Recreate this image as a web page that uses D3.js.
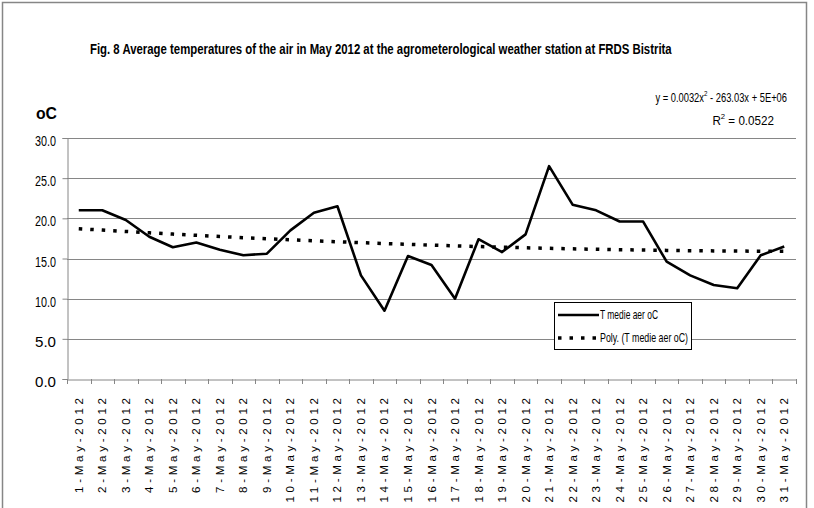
<!DOCTYPE html>
<html>
<head>
<meta charset="utf-8">
<script src="https://cdn.jsdelivr.net/npm/d3@7"></script>
<style>
  body { margin: 0; background: #fff; }
  text { font-family: "Liberation Sans Narrow", "Liberation Sans", Arial, sans-serif; fill: #000; }
</style>
</head>
<body>
<div id="chart"></div>
<script>
var dayLabels = ["1-May-2012", "2-May-2012", "3-May-2012", "4-May-2012", "5-May-2012",
  "6-May-2012", "7-May-2012", "8-May-2012", "9-May-2012", "10-May-2012", "11-May-2012",
  "12-May-2012", "13-May-2012", "14-May-2012", "15-May-2012", "16-May-2012", "17-May-2012",
  "18-May-2012", "19-May-2012", "20-May-2012", "21-May-2012", "22-May-2012", "23-May-2012",
  "24-May-2012", "25-May-2012", "26-May-2012", "27-May-2012", "28-May-2012", "29-May-2012",
  "30-May-2012", "31-May-2012"];

var tempValues = [21.0, 21.0, 19.8, 17.7, 16.4, 17.0, 16.1, 15.4, 15.6, 18.5, 20.7,
  21.5, 12.9, 8.5, 15.3, 14.2, 10.0, 17.4, 15.8, 18.0, 26.5, 21.7, 21.0,
  19.6, 19.6, 14.6, 12.9, 11.7, 11.3, 15.4, 16.5];

var yTicks = [0, 5, 10, 15, 20, 25, 30];

var seriesName = "T medie aer oC";
var trendName = "Poly. (T medie aer oC)";
var titleText = "Fig. 8  Average temperatures of the air in May 2012 at the agrometerological weather station at FRDS Bistrita";

var CONFIG = {
  width: 814,
  height: 508,
  plot: { left: 67, right: 796, top: 138, bottom: 379 }
};

// 2nd order least squares fit (the "Poly." trendline)
function polyFit(vals) {
  var s = [0, 0, 0, 0, 0], t = [0, 0, 0];
  vals.forEach((v, i) => {
    var x = i + 1;
    for (var k = 0; k < 5; k++) s[k] += Math.pow(x, k);
    for (var k = 0; k < 3; k++) t[k] += v * Math.pow(x, k);
  });
  var m = [[s[0], s[1], s[2], t[0]], [s[1], s[2], s[3], t[1]], [s[2], s[3], s[4], t[2]]];
  for (var i = 0; i < 3; i++) {
    for (var j = i + 1; j < 3; j++) {
      var f = m[j][i] / m[i][i];
      for (var k = i; k < 4; k++) m[j][k] -= f * m[i][k];
    }
  }
  var c = [0, 0, 0];
  for (var i = 2; i >= 0; i--) {
    var sum = m[i][3];
    for (var k = i + 1; k < 3; k++) sum -= m[i][k] * c[k];
    c[i] = sum / m[i][i];
  }
  return vals.map((v, i) => c[0] + c[1] * (i + 1) + c[2] * (i + 1) * (i + 1));
}

var trendValues = polyFit(tempValues);

// squeeze a text element horizontally so it is w pixels wide
function fitWidth(sel, w, anchorX) {
  var cur = sel.node().getBBox().width;
  var k = w / cur;
  sel.attr("transform", "translate(" + anchorX + ",0) scale(" + k + ",1) translate(" + (-anchorX) + ",0)");
}

var svg = d3.select("#chart").append("svg")
  .attr("width", CONFIG.width)
  .attr("height", CONFIG.height);

// outer frame
svg.append("rect")
  .attr("x", 2.5).attr("y", 2.5)
  .attr("width", 804).attr("height", 530)
  .attr("fill", "#fff")
  .attr("stroke", "#868686")
  .attr("stroke-width", 1.5);

var x = d3.scaleBand()
  .domain(dayLabels)
  .range([CONFIG.plot.left, CONFIG.plot.right]);

var y = d3.scaleLinear()
  .domain([0, 30])
  .range([CONFIG.plot.bottom, CONFIG.plot.top]);

// gridlines
svg.append("g")
  .selectAll("line")
  .data(yTicks.filter(d => d > 0))
  .enter().append("line")
  .attr("x1", CONFIG.plot.left)
  .attr("x2", CONFIG.plot.right)
  .attr("y1", d => Math.round(y(d)) + 0.5)
  .attr("y2", d => Math.round(y(d)) + 0.5)
  .attr("stroke", "#868686")
  .attr("stroke-width", 1);

// y axis
var yAxis = svg.append("g")
  .attr("transform", "translate(" + (CONFIG.plot.left + 0.5) + ",0)")
  .call(d3.axisLeft(y).tickValues(yTicks).tickSize(5).tickFormat(""));
yAxis.selectAll("path, line").attr("stroke", "#868686");

svg.append("g")
  .selectAll("text")
  .data(yTicks)
  .enter().append("text")
  .attr("x", 56)
  .attr("y", d => y(d) + 8)
  .attr("text-anchor", "end")
  .attr("font-size", "15px")
  .attr("textLength", 21)
  .attr("lengthAdjust", "spacingAndGlyphs")
  .text(d => d.toFixed(1));

// x axis
var xAxis = svg.append("g")
  .attr("transform", "translate(0," + (CONFIG.plot.bottom + 0.5) + ")")
  .call(d3.axisBottom(x).tickSize(0).tickFormat("").tickSizeOuter(0));
xAxis.select("path").attr("stroke", "#868686");

svg.append("g")
  .selectAll("line")
  .data(dayLabels.concat(["end"]))
  .enter().append("line")
  .attr("x1", (d, i) => Math.round(CONFIG.plot.left + i * x.step()) + 0.5)
  .attr("x2", (d, i) => Math.round(CONFIG.plot.left + i * x.step()) + 0.5)
  .attr("y1", CONFIG.plot.bottom)
  .attr("y2", CONFIG.plot.bottom + 5)
  .attr("stroke", "#868686");

svg.append("g")
  .selectAll("text")
  .data(dayLabels)
  .enter().append("text")
  .attr("transform", d => "translate(" + (x(d) + x.bandwidth() / 2 + 4) + "," + 398 + ") rotate(-90)")
  .attr("text-anchor", "end")
  .attr("font-size", "11.5px")
  .attr("textLength", d => d.length * 9.5)
  .attr("lengthAdjust", "spacing")
  .text(d => d);

// trendline
var line = d3.line()
  .x((d, i) => x(dayLabels[i]) + x.bandwidth() / 2)
  .y(d => y(d));

svg.append("path")
  .datum(trendValues)
  .attr("d", line)
  .attr("fill", "none")
  .attr("stroke", "#000")
  .attr("stroke-width", 3.5)
  .attr("stroke-dasharray", "3.5,8");

// data line
svg.append("path")
  .datum(tempValues)
  .attr("d", line)
  .attr("fill", "none")
  .attr("stroke", "#000")
  .attr("stroke-width", 2.6)
  .attr("stroke-linejoin", "round");

// title
var title = svg.append("text")
  .attr("x", 90)
  .attr("y", 54)
  .attr("font-size", "15px")
  .attr("font-weight", "bold")
  .text(titleText);
fitWidth(title, 583, 90);

svg.append("text")
  .attr("x", 36)
  .attr("y", 119)
  .attr("font-size", "16px")
  .attr("font-weight", "bold")
  .attr("textLength", 21)
  .attr("lengthAdjust", "spacingAndGlyphs")
  .text("oC");

// trendline equation
var eq = svg.append("text")
  .attr("x", 787)
  .attr("y", 102)
  .attr("text-anchor", "end")
  .attr("font-size", "12px");
eq.append("tspan").text("y = 0.0032x");
eq.append("tspan").attr("dy", -6).attr("font-size", "8px").text("2");
eq.append("tspan").attr("dy", 6).text(" - 263.03x + 5E+06");
fitWidth(eq, 132, 787);

var r2 = svg.append("text")
  .attr("x", 774)
  .attr("y", 125)
  .attr("text-anchor", "end")
  .attr("font-size", "12px");
r2.append("tspan").text("R");
r2.append("tspan").attr("dy", -6).attr("font-size", "8px").text("2");
r2.append("tspan").attr("dy", 6).text(" = 0.0522");
fitWidth(r2, 62, 774);

// legend
var legend = svg.append("g").attr("transform", "translate(554,302)");
legend.append("rect")
  .attr("x", 0.5).attr("y", 0.5)
  .attr("width", 137).attr("height", 47)
  .attr("fill", "#fff")
  .attr("stroke", "#000")
  .attr("stroke-width", 1);

var legendRows = [
  { name: seriesName, dash: null, w: 2.6, len: 58 },
  { name: trendName, dash: "3.5,8", w: 3.5, len: 88 }
];

legend.selectAll("line")
  .data(legendRows)
  .enter().append("line")
  .attr("x1", 4)
  .attr("x2", 45)
  .attr("y1", (d, i) => 13 + i * 23)
  .attr("y2", (d, i) => 13 + i * 23)
  .attr("stroke", "#000")
  .attr("stroke-width", d => d.w)
  .attr("stroke-dasharray", d => d.dash);

legend.selectAll("text")
  .data(legendRows)
  .enter().append("text")
  .attr("x", 46)
  .attr("y", (d, i) => 17 + i * 23)
  .attr("font-size", "13px")
  .attr("textLength", d => d.len)
  .attr("lengthAdjust", "spacingAndGlyphs")
  .text(d => d.name);
</script>
</body>
</html>
